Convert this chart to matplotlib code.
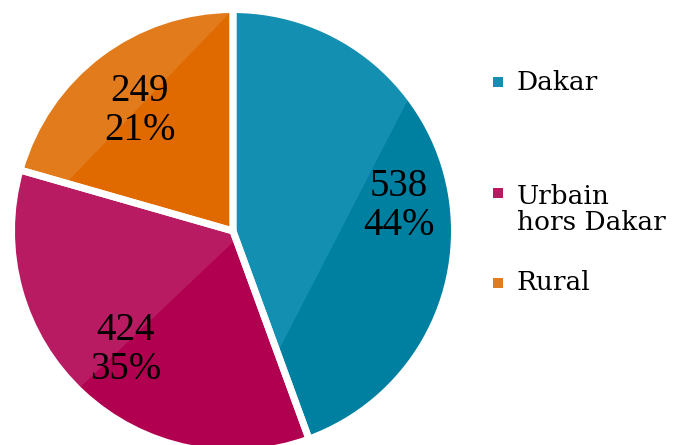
import numpy as np
import matplotlib
matplotlib.use("Agg")
import matplotlib.pyplot as plt
from matplotlib.patches import Polygon, Wedge, Rectangle

categories = ["Dakar", "Urbain\nhors Dakar", "Rural"]
values = [538, 424, 249]
dark_colors = ["#0080A0", "#B0004F", "#E06A00"]
light_colors = ["#138FB2", "#B81B62", "#E27B1C"]
label_dist = [0.76, 0.71, 0.70]

W, H = 676, 445
fig = plt.figure(figsize=(W / 100, H / 100), dpi=100)
ax = fig.add_axes([0, 0, 1, 1])

cx, cy = 233, H - 231
lw = 5
R = 218 + lw * 100 / 72 / 2

total = sum(values)

wedges, _ = ax.pie(values, colors=dark_colors, startangle=90, counterclock=False,
                   center=(cx, cy), radius=R, wedgeprops=dict(linewidth=0))

for i, w in enumerate(wedges):
    th = np.radians(np.linspace(w.theta1, w.theta2, 200))
    xs = np.concatenate([[cx], cx + w.r * np.cos(th)])
    ys = np.concatenate([[cy], cy + w.r * np.sin(th)])
    x0, x1, y0, y1 = xs.min(), xs.max(), ys.min(), ys.max()
    tri = Polygon([(x0, y1), (x1, y1), (x0, y0)], closed=True,
                  facecolor=light_colors[i], edgecolor="none", zorder=w.get_zorder() + 0.1)
    ax.add_patch(tri)
    tri.set_clip_path(w)
    outline = Wedge((cx, cy), w.r, w.theta1, w.theta2, fill=False,
                    edgecolor="white", linewidth=lw, zorder=w.get_zorder() + 0.2)
    ax.add_patch(outline)
    mid = np.radians((w.theta1 + w.theta2) / 2)
    d = label_dist[i] * w.r
    pct = values[i] / total * 100
    ax.text(cx + d * np.cos(mid), cy + d * np.sin(mid) - 4, f"{values[i]}\n{pct:.0f}%",
            ha="center", va="center", fontsize=28, family="Liberation Serif",
            color="black", linespacing=1.08, zorder=10)

# legend
leg_y = [H - 82, H - 193, H - 283]
text_y = [H - 82, H - 210, H - 283]
for i, cat in enumerate(categories):
    ax.add_patch(Rectangle((493, leg_y[i] - 5), 10, 10, facecolor=light_colors[i],
                           edgecolor="none"))
    ax.text(517, text_y[i], cat, ha="left", va="center", fontsize=19,
            family="DejaVu Serif", color="black", linespacing=1.05)

ax.set_xlim(0, W)
ax.set_ylim(0, H)
ax.set_aspect("equal")
ax.axis("off")
fig.savefig("out.png", dpi=100)
